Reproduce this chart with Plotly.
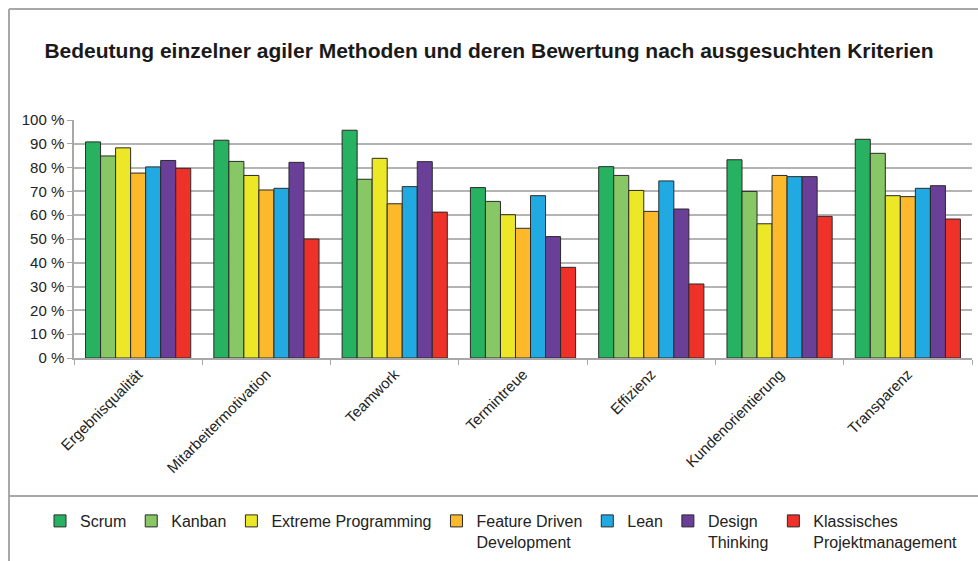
import plotly.graph_objects as go

categories = ["Ergebnisqualität", "Mitarbeitermotivation", "Teamwork", "Termintreue",
              "Effizienz", "Kundenorientierung", "Transparenz"]

series_names = ["Scrum", "Kanban", "Extreme Programming", "Feature Driven<br>Development",
                "Lean", "Design<br>Thinking", "Klassisches<br>Projektmanagement"]

scrum = [90.8, 91.5, 95.7, 71.6, 80.4, 83.3, 91.9]
kanban = [84.9, 82.6, 75.1, 65.8, 76.7, 70.0, 86.0]
extreme_programming = [88.3, 76.7, 83.9, 60.2, 70.4, 56.4, 68.2]
feature_driven = [77.7, 70.6, 64.8, 54.5, 61.6, 76.7, 67.8]
lean = [80.3, 71.3, 72.0, 68.2, 74.4, 76.2, 71.3]
design_thinking = [83.0, 82.2, 82.5, 51.0, 62.6, 76.2, 72.4]
klassisch = [79.7, 50.0, 61.3, 38.1, 31.1, 59.5, 58.4]

series_values = [scrum, kanban, extreme_programming, feature_driven, lean, design_thinking, klassisch]
colors = ["#27b262", "#88c765", "#ece828", "#fcb92b", "#21aae1", "#6a3f98", "#ee3129"]

y_tickvals = [0, 10, 20, 30, 40, 50, 60, 70, 80, 90, 100]
y_ticktext = [f"{v} %" for v in y_tickvals]

fig = go.Figure()
for name, vals, col in zip(series_names, series_values, colors):
    fig.add_trace(go.Bar(
        x=categories, y=vals, name=name,
        marker=dict(color=col, line=dict(color="#2a2a2a", width=1)),
    ))

W, H = 978, 561
L, R, T, B = 74, 6, 120, 203
pw, ph = W - L - R, H - T - B

def px_x(p):
    return (p - L) / pw

def px_y(q):
    return (H - B - q) / ph

frame = dict(color="#a8a8a8", width=2)
fig.add_shape(type="line", xref="paper", yref="paper", x0=px_x(9), x1=px_x(W + 5),
              y0=px_y(9), y1=px_y(9), line=frame)
fig.add_shape(type="line", xref="paper", yref="paper", x0=px_x(9), x1=px_x(9),
              y0=px_y(9), y1=px_y(H + 5), line=frame)
fig.add_shape(type="line", xref="paper", yref="paper", x0=px_x(9), x1=px_x(W + 5),
              y0=px_y(496), y1=px_y(496), line=frame)

fig.update_layout(
    width=W, height=H,
    margin=dict(l=L, r=R, t=T, b=B, autoexpand=False),
    paper_bgcolor="white", plot_bgcolor="white",
    font=dict(family="Liberation Sans, Arial, sans-serif", color="#222222", size=15),
    title=dict(text="<b>Bedeutung einzelner agiler Methoden und deren Bewertung nach ausgesuchten Kriterien</b>",
               x=0.5, xanchor="center", y=1 - 51 / H, yanchor="middle",
               font=dict(size=21, color="#1a1a1a")),
    barmode="group", bargap=0.18, bargroupgap=0,
    showlegend=True,
    legend=dict(orientation="h", x=px_x(40), xanchor="left", y=px_y(504), yanchor="top",
                font=dict(size=16), itemwidth=30, traceorder="normal",
                valign="top"),
    xaxis=dict(showline=True, linecolor="#a8a8a8", linewidth=1.5,
               ticks="outside", tickson="boundaries", ticklen=5, tickcolor="#a8a8a8",
               tickangle=-45, tickfont=dict(size=15), showgrid=False),
    yaxis=dict(range=[0, 100], tickvals=y_tickvals, ticktext=y_ticktext,
               showline=True, linecolor="#a8a8a8", linewidth=1.5,
               ticks="outside", ticklen=5, tickcolor="#a8a8a8",
               showgrid=True, gridcolor="#b4b4b4", gridwidth=1.5,
               tickfont=dict(size=15), zeroline=False),
)

fig.write_html("out.html", config={"displayModeBar": False},
               post_script="document.body.style.margin='0';")
